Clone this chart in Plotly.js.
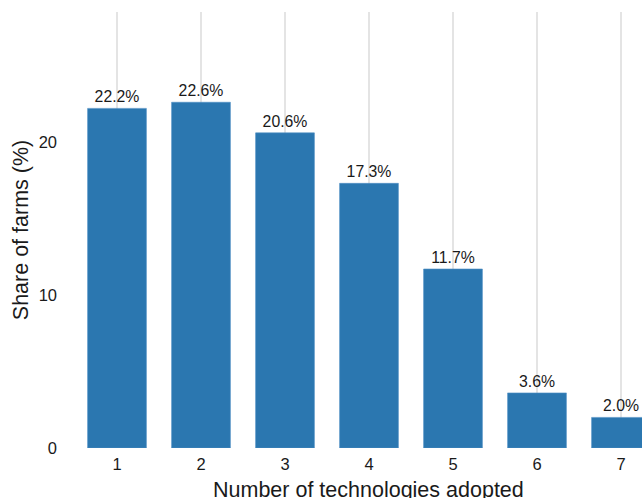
<!DOCTYPE html>
<html>
<head>
<meta charset="utf-8">
<script src="https://cdn.plot.ly/plotly-3.0.1.min.js"></script>
<style>html,body{margin:0;padding:0;background:#fff;}#chart{width:642px;height:498px;}</style>
</head>
<body>
<div id="chart"></div>
<script>
// Number of technologies adopted per farm, and the share of farms (%)
const techCounts = [1, 2, 3, 4, 5, 6, 7];
const farmShares = [22.2, 22.6, 20.6, 17.3, 11.7, 3.6, 2.0];
const xTickLabels = ["1", "2", "3", "4", "5", "6", "7"];
const yTickValues = [0, 10, 20];

const font = "Liberation Sans, Arial, Helvetica, sans-serif";

const trace = {
  type: "bar",
  x: techCounts,
  y: farmShares,
  width: 0.7,
  marker: {color: "#2B77B0", line: {color: "#4F8FC4", width: 0.6}},
  text: farmShares.map(v => v.toFixed(1) + "%"),
  textposition: "outside",
  textfont: {family: font, size: 15.8, color: "#1a1a1a"},
  cliponaxis: false,
  hoverinfo: "x+y"
};

const layout = {
  width: 642,
  height: 498,
  margin: {l: 75, r: 0, t: 12, b: 50},
  paper_bgcolor: "#ffffff",
  plot_bgcolor: "#ffffff",
  showlegend: false,
  font: {family: font, color: "#1a1a1a"},
  xaxis: {
    range: [0.5, 7.25],
    tickvals: techCounts,
    ticktext: xTickLabels,
    showgrid: true,
    gridcolor: "#e4e4e4",
    gridwidth: 1.8,
    zeroline: false,
    showline: false,
    ticks: "",
    ticklabelstandoff: 4,
    tickfont: {family: font, size: 16.5, color: "#1a1a1a"},
    title: {text: ""}
  },
  yaxis: {
    range: [0, 28.5],
    tickvals: yTickValues,
    showgrid: false,
    zeroline: false,
    showline: false,
    ticks: "",
    ticklabelstandoff: 17,
    tickfont: {family: font, size: 16.5, color: "#1a1a1a"},
    title: {text: "Share of farms (%)", font: {family: font, size: 21.5, color: "#1a1a1a"}, standoff: 4}
  },
  annotations: [{
    xref: "paper", yref: "paper",
    x: 0.5176, y: 0, yshift: -27.5,
    xanchor: "center", yanchor: "top",
    showarrow: false,
    text: "Number of technologies adopted",
    font: {family: font, size: 21.5, color: "#1a1a1a"}
  }]
};

Plotly.newPlot("chart", [trace], layout, {displayModeBar: false, staticPlot: true});
</script>
</body>
</html>
